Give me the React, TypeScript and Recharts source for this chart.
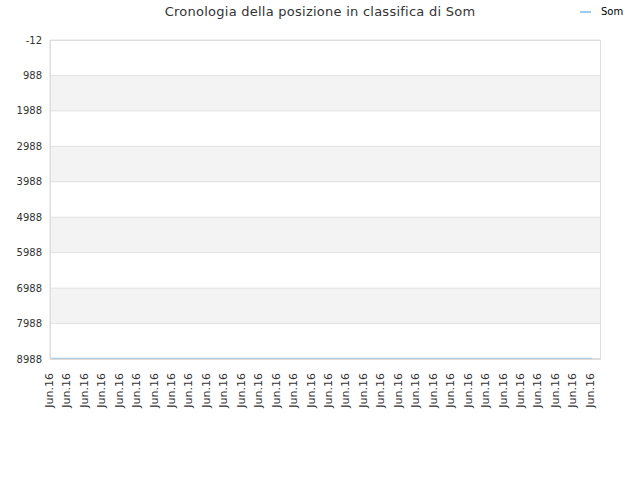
import { LineChart, Line, XAxis, YAxis, CartesianGrid } from 'recharts'

const mesi = Array.from({ length: 32 }, () => 'Jun.16')
const posizioni = [
  8975, 8975, 8975, 8975, 8975, 8975, 8975, 8975,
  8975, 8975, 8975, 8975, 8975, 8975, 8975, 8975,
  8975, 8975, 8975, 8975, 8975, 8975, 8975, 8975,
  8975, 8975, 8975, 8975, 8975, 8975, 8975, 8975,
]
const tickY = [-12, 988, 1988, 2988, 3988, 4988, 5988, 6988, 7988, 8988]

const dati = mesi.map((m, i) => ({ idx: i, mese: m, Som: posizioni[i] }))

const FONT = '"DejaVu Sans", sans-serif'

export default function App() {
  return (
    <div style={{ position: 'absolute', left: 0, top: 0, width: 640, height: 480, background: '#fff' }}>
      <div style={{ position: 'absolute', top: 4, left: 0, width: 640, textAlign: 'center', fontFamily: FONT, fontSize: 13, letterSpacing: 0.25, color: '#333' }}>
        Cronologia della posizione in classifica di Som
      </div>
      <div style={{ position: 'absolute', top: 6, left: 580, display: 'flex', alignItems: 'center', fontFamily: FONT, fontSize: 10, color: '#000' }}>
        <span style={{ display: 'inline-block', width: 11, height: 2, background: '#9fcbf2', marginRight: 10 }} />
        Som
      </div>
      <LineChart width={640} height={480} data={dati} margin={{ top: 40, right: 40, bottom: 71, left: 0 }}>
        <CartesianGrid vertical={false} stroke="#e2e2e2" horizontalFill={['#ffffff', '#f3f3f3']} fillOpacity={1} />
        <XAxis dataKey="idx" type="category" tickFormatter={(i: number) => mesi[i]} interval={0}
          height={50} padding={{ left: 1, right: 8 }} axisLine={{ stroke: '#cccccc' }} tickLine={false}
          angle={-90} textAnchor="end" dx={-6} dy={6}
          tick={{ fontSize: 11, fontFamily: FONT, fill: '#333' }} />
        <YAxis reversed domain={[-12, 8988]} ticks={tickY} interval={0} width={50}
          axisLine={{ stroke: '#dddddd' }} tickLine={false}
          tick={{ fontSize: 10, fontFamily: FONT, fill: '#333' }} />
        <Line type="linear" dataKey="Som" stroke="#9fcbf2" strokeWidth={1.5} dot={false} isAnimationActive={false} />
      </LineChart>
      <div style={{ position: 'absolute', left: 50, top: 40, width: 549, height: 318, border: '1px solid #dddddd', pointerEvents: 'none' }} />
    </div>
  )
}
